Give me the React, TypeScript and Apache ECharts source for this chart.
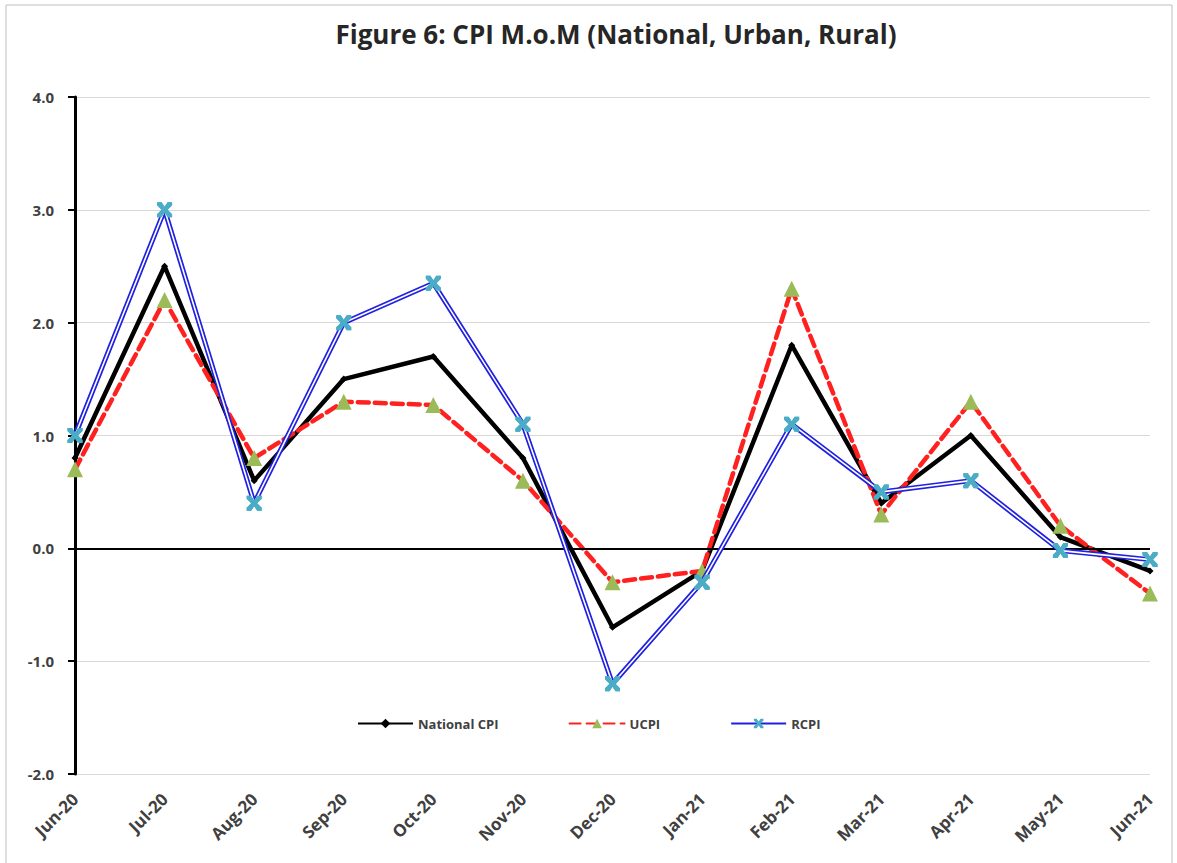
import React, { useEffect, useRef } from "react";
import * as echarts from "echarts";

const categories = ["Jun-20", "Jul-20", "Aug-20", "Sep-20", "Oct-20", "Nov-20", "Dec-20", "Jan-21", "Feb-21", "Mar-21", "Apr-21", "May-21", "Jun-21"];
const nationalCPI = [0.8, 2.5, 0.6, 1.5, 1.7, 0.8, -0.7, -0.2, 1.8, 0.4, 1.0, 0.1, -0.2];
const ucpi = [0.7, 2.2, 0.8, 1.3, 1.27, 0.6, -0.3, -0.2, 2.3, 0.3, 1.3, 0.2, -0.4];
const rcpi = [1.0, 3.0, 0.4, 2.0, 2.35, 1.1, -1.2, -0.3, 1.1, 0.5, 0.6, -0.02, -0.1];
const yTicks = { min: -2, max: 4, interval: 1 };
const titleText = "Figure 6: CPI M.o.M (National, Urban, Rural)";

const FONT = "'Open Sans', Lato, sans-serif";
const X_SYMBOL = "path://M0,0 L3,0 L5,3 L7,0 L10,0 L10,2 L7,5 L10,8 L10,10 L7,10 L5,7 L3,10 L0,10 L0,8 L3,5 L0,2 Z";

export default function App() {
  const ref = useRef<HTMLDivElement>(null);
  useEffect(() => {
    if (!ref.current) return;
    const chart = echarts.init(ref.current, undefined, { renderer: "svg" });
    chart.setOption({
      animation: false,
      backgroundColor: "#ffffff",
      title: {
        text: titleText,
        left: 611,
        textAlign: "center",
        top: 16,
        textStyle: { fontFamily: FONT, fontWeight: "bold", fontSize: 26, color: "#262626" },
      },
      graphic: [
        {
          type: "rect",
          shape: { x: 6, y: 5, width: 1166, height: 870 },
          style: { fill: "none", stroke: "#bfbfbf", lineWidth: 1 },
          silent: true,
        },
      ],
      legend: {
        left: 352,
        top: 712,
        itemWidth: 55,
        itemHeight: 12,
        itemGap: 70,
        data: ["National CPI", "UCPI", "RCPI"],
        textStyle: { fontFamily: FONT, fontWeight: "bold", fontSize: 13, color: "#404040" },
      },
      grid: { left: 75, right: 27, top: 97, bottom: 89, containLabel: false },
      xAxis: {
        type: "category",
        data: categories,
        boundaryGap: false,
        axisLine: { show: false, onZero: false },
        axisTick: { show: false },
        axisLabel: {
          rotate: 45,
          margin: 22,
          fontFamily: FONT,
          fontWeight: "bold",
          fontSize: 17,
          color: "#404040",
        },
      },
      yAxis: {
        type: "value",
        min: yTicks.min,
        max: yTicks.max,
        interval: yTicks.interval,
        axisLine: { show: true, lineStyle: { color: "#000000", width: 3 } },
        axisTick: { show: true, length: 7, lineStyle: { color: "#000000", width: 2 } },
        splitLine: { show: true, lineStyle: { color: "#d9d9d9", width: 1 } },
        axisLabel: {
          formatter: (v: number) => v.toFixed(1),
          fontFamily: FONT,
          fontWeight: "bold",
          fontSize: 15,
          color: "#404040",
          margin: 21,
        },
      },
      series: [
        {
          name: "National CPI",
          type: "line",
          data: nationalCPI,
          z: 3,
          symbol: "diamond",
          symbolSize: 7,
          itemStyle: { color: "#000000" },
          lineStyle: { color: "#000000", width: 4.5 },
          markLine: {
            silent: true,
            symbol: "none",
            label: { show: false },
            lineStyle: { color: "#000000", width: 2, type: "solid" },
            data: [{ yAxis: 0 }],
          },
        },
        {
          name: "UCPI",
          type: "line",
          data: ucpi,
          z: 4,
          symbol: "triangle",
          symbolSize: 16,
          itemStyle: { color: "#9bbb59" },
          lineStyle: { color: "#ff2020", width: 4.5, type: [11, 6], cap: "round" },
        },
        {
          name: "RCPI",
          type: "line",
          data: rcpi,
          z: 5,
          symbol: X_SYMBOL,
          symbolSize: 15,
          itemStyle: { color: "#4bacc6" },
          lineStyle: { color: "#2020e0", width: 5 },
        },
        {
          name: "RCPI inner",
          type: "line",
          data: rcpi,
          z: 6,
          symbol: "none",
          lineStyle: { color: "#ffffff", width: 1.6 },
        },
        {
          name: "RCPI markers",
          type: "line",
          data: rcpi,
          z: 7,
          symbol: X_SYMBOL,
          symbolSize: 15,
          itemStyle: { color: "#4bacc6" },
          lineStyle: { width: 0, opacity: 0 },
        },
      ],
    });
    return () => chart.dispose();
  }, []);
  return (
    <div
      ref={ref}
      style={{ position: "absolute", left: 0, top: 0, width: 1177, height: 863 }}
    />
  );
}
